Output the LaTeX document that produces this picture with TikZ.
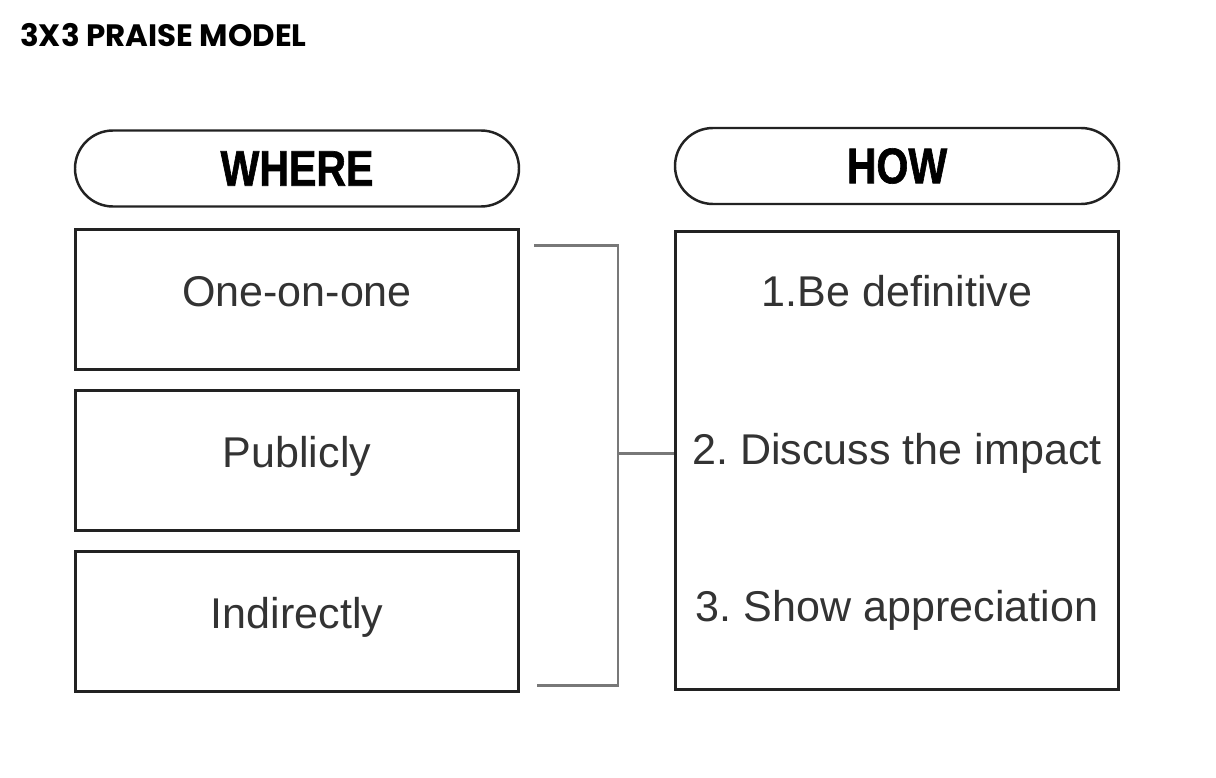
\documentclass[tikz,border=0pt]{standalone}
\usepackage{fontspec}
\usepackage{tikz}
\usetikzlibrary{positioning}
\setmainfont{Liberation Sans}
\newfontfamily\titlefont{Poppins}
\newfontfamily\headfont{Liberation Sans}[FakeStretch=0.82,FakeBold=1.2]
\definecolor{inkline}{RGB}{34,34,34}
\definecolor{spinegray}{RGB}{120,120,120}
\frenchspacing

\begin{document}
\begin{tikzpicture}[node distance=0.36cm,
  pill/.style={draw=inkline, line width=1.4pt, rounded corners=0.76cm, minimum width=8.88cm, minimum height=1.52cm, font=\headfont\bfseries\fontsize{28.5}{30}\selectfont},
  wherebox/.style={draw=inkline, line width=1.8pt, minimum width=8.86cm, minimum height=2.8cm, text=black!80, text height=0.63cm, text depth=0.36cm, font=\fontsize{24.5}{28}\selectfont},
  steptext/.style={text=black!80, font=\fontsize{24.5}{28}\selectfont},
  bracket/.style={draw=spinegray, line width=1.5pt}]
\useasboundingbox (0,0) rectangle (24.32,-15.56);
\node[anchor=west, font=\titlefont\bfseries\fontsize{17.6}{19}\selectfont] (title) at (0.28,-0.7) {3X3 PRAISE MODEL};
\node[pill] (where) at (5.94,-3.37) {WHERE};
\node[pill] (how) at (17.94,-3.32) {HOW};
\node[wherebox, below=0.4cm of where] (one) {One-on-one};
\node[wherebox, below=of one] (two) {Publicly};
\node[wherebox, below=of two] (three) {Indirectly};
\node[wherebox, below=0.5cm of how, minimum height=9.16cm] (steps) {};
\node[steptext] (s1) at ([yshift=-1.22cm]steps.north) {1.Be definitive};
\node[steptext] (s2) at ([yshift=0.14cm]steps.center) {2. Discuss the impact};
\node[steptext] (s3) at ([yshift=1.62cm]steps.south) {3. Show appreciation};
% bracket joining the three places to the list
\coordinate (jt) at ([shift={(0.28,-0.36)}]one.north east);
\coordinate (jb) at ([shift={(0.34,0.16)}]three.south east);
\coordinate (spine) at ([shift={(-1.12,0.14)}]steps.west);
\draw[bracket] (jt) -| (spine) |- (jb);
\draw[bracket] (spine) -- (spine -| steps.west);
\end{tikzpicture}
\end{document}
